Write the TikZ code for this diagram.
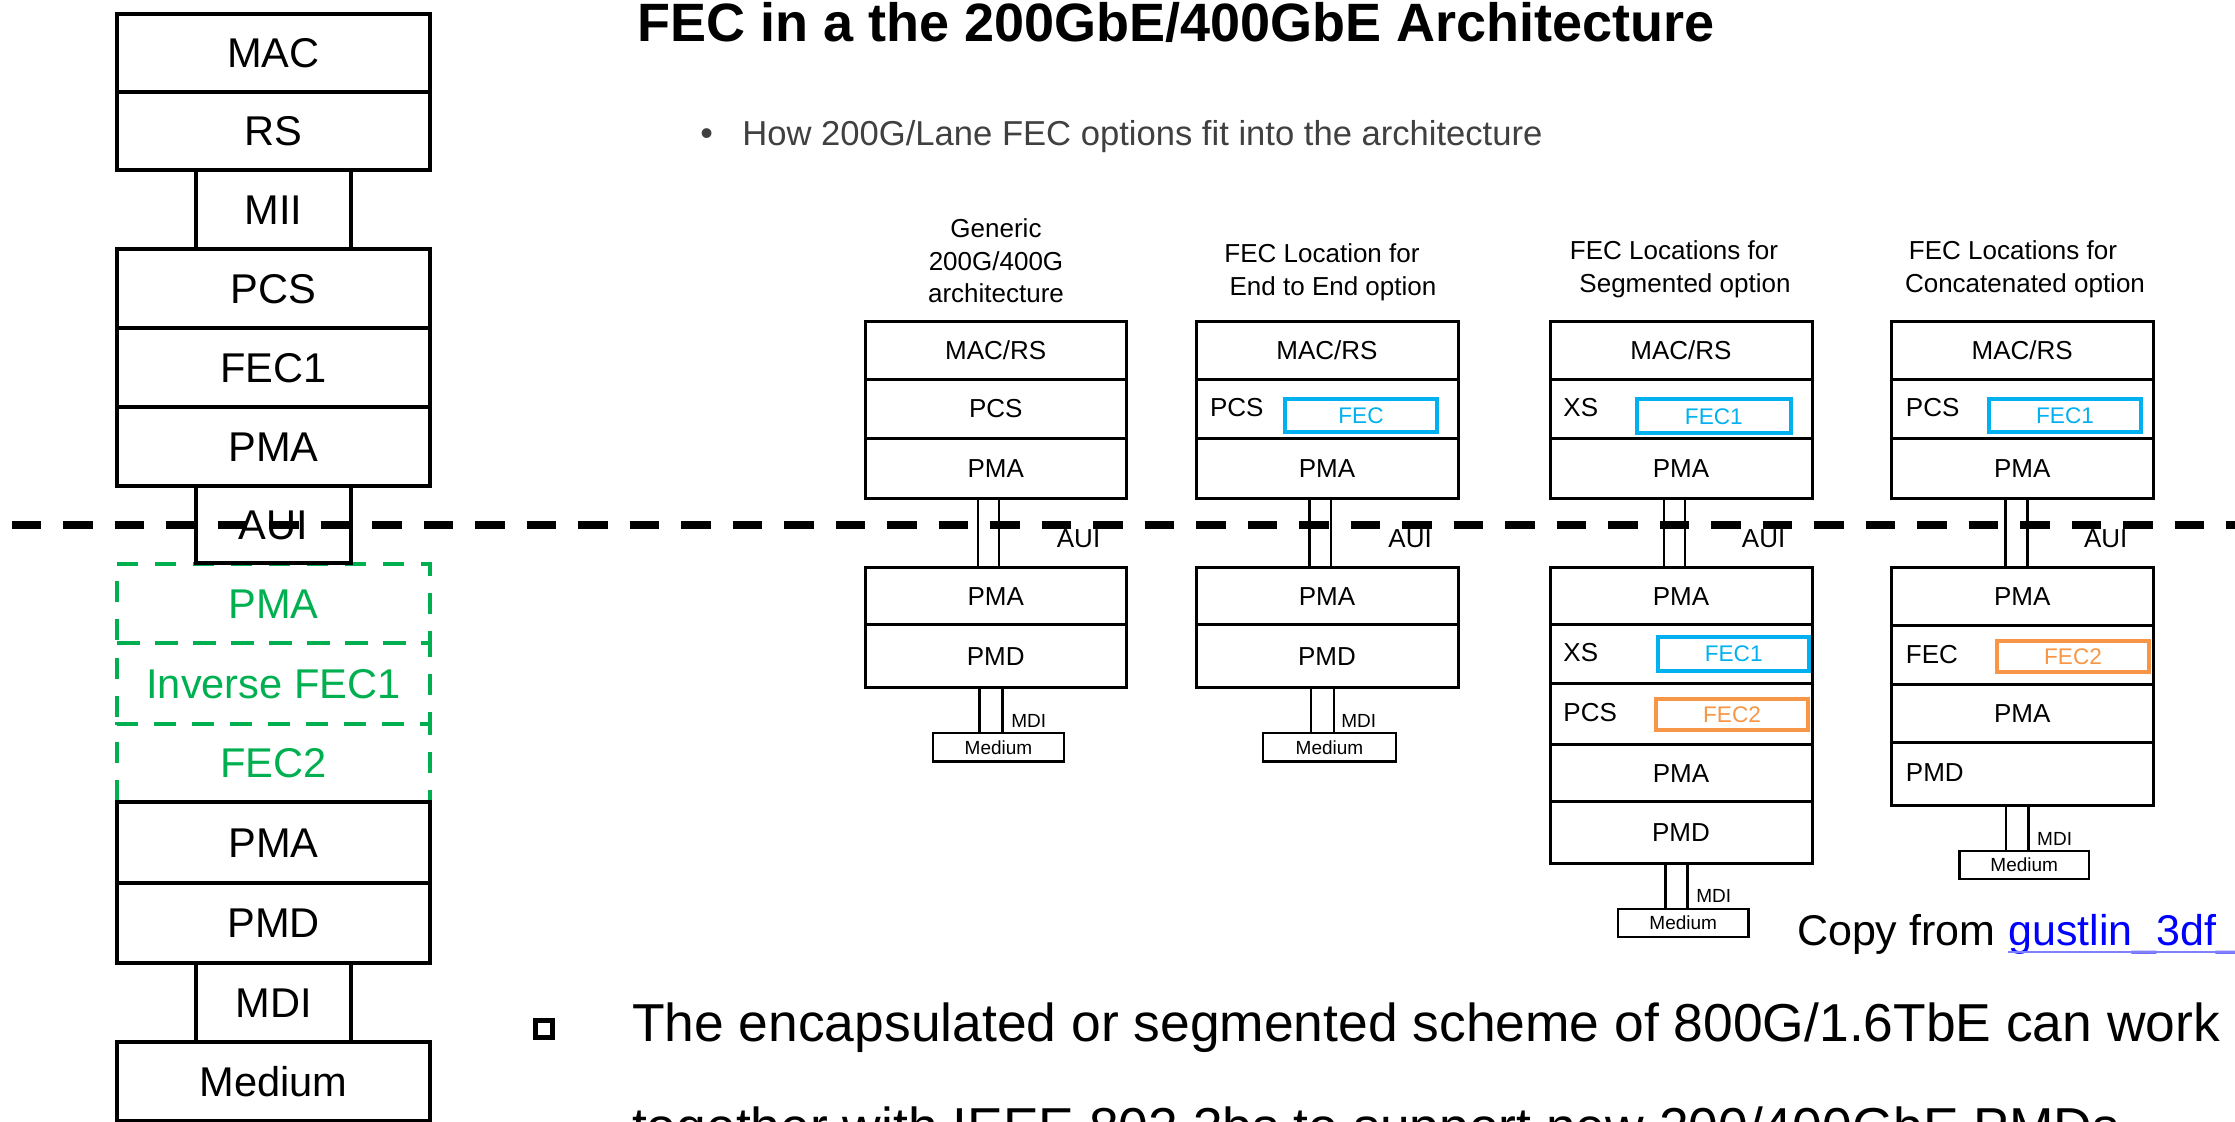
\documentclass[tikz,border=0pt]{standalone}
\usepackage{fontspec}
\setmainfont{Liberation Sans}

\definecolor{fecgreen}{HTML}{00B050}
\definecolor{fecblue}{HTML}{00B0F0}
\definecolor{fecorange}{HTML}{F79646}
\definecolor{linkblue}{HTML}{0000FF}
\definecolor{linkrule}{HTML}{8080FF}
\definecolor{subgray}{HTML}{404040}

% layer box spanning (x1,y1)-(x2,y2): [style]{name}{x1}{y1}{x2}{y2}{text}
\newcommand{\mkbox}[7][]{%
  \node[#1, minimum width={(#5-#3)*0.5pt}, minimum height={(#6-#4)*0.5pt}]
    (#2) at ({(#3+#5)/2},{(#4+#6)/2}) {#7};}

\begin{document}
\begin{tikzpicture}[x=0.5pt,y=-0.5pt,
  bigbox/.style={draw, line width=2.25pt, inner sep=0pt,
    font=\fontsize{20.8pt}{25pt}\selectfont, text height=14.9pt, text depth=0pt},
  greenbox/.style={bigbox, draw=fecgreen, text=fecgreen,
    dash pattern=on 10.5pt off 8.5pt},
  smbox/.style={draw, line width=1.5pt, inner sep=0pt,
    font=\fontsize{13pt}{15pt}\selectfont, text height=9.3pt, text depth=0pt},
  fecb/.style={draw=fecblue, text=fecblue, line width=2pt, inner sep=0pt,
    font=\fontsize{11.3pt}{13pt}\selectfont, text height=8.1pt, text depth=0pt},
  feco/.style={fecb, draw=fecorange, text=fecorange},
  medbox/.style={draw, line width=1.3pt, inner sep=0pt,
    font=\fontsize{9.5pt}{11pt}\selectfont, text height=6.8pt, text depth=0pt},
  lbl/.style={inner sep=0pt, anchor=base west, font=\fontsize{13pt}{15pt}\selectfont},
  mdilbl/.style={inner sep=0pt, anchor=base west, font=\fontsize{9.5pt}{11pt}\selectfont},
  ttl/.style={inner sep=0pt, anchor=base, font=\fontsize{13pt}{15pt}\selectfont},
  lnk/.style={line width=1.4pt},
  cutline/.style={line width=4pt, dash pattern=on 14.75pt off 11pt}]

\useasboundingbox (0,0) rectangle (2235,1121);

% ---------------- left protocol stack ----------------
\mkbox[bigbox]{lmac}{117}{14}{430}{92}{MAC}
\mkbox[bigbox]{lrs}{117}{92}{430}{170}{RS}
\mkbox[bigbox]{lmii}{196}{170}{351}{249}{MII}
\mkbox[bigbox]{lpcs}{117}{249}{430}{328}{PCS}
\mkbox[bigbox]{lfec}{117}{328}{430}{407}{FEC1}
\mkbox[bigbox]{lpma}{117}{407}{430}{486}{PMA}
\mkbox[greenbox]{gpma}{117}{564}{430}{643}{PMA}
\mkbox[greenbox]{ginv}{117}{643}{430}{724}{Inverse FEC1}
\mkbox[greenbox]{gfec}{117}{724}{430}{802}{FEC2}
\mkbox[bigbox]{laui}{196}{486}{351}{563}{AUI}
\mkbox[bigbox]{lpma2}{117}{802}{430}{883}{PMA}
\mkbox[bigbox]{lpmd}{117}{883}{430}{963}{PMD}
\mkbox[bigbox]{lmdi}{196}{963}{351}{1042}{MDI}
\mkbox[bigbox]{lmed}{117}{1042}{430}{1121}{Medium}

% ---------------- headings ----------------
\node[inner sep=0pt, anchor=base west, font=\bfseries\fontsize{27pt}{32pt}\selectfont]
  (title) at (637,41.7) {FEC in a the 200GbE/400GbE Architecture};
\node[inner sep=0pt, anchor=base west, text=subgray, font=\fontsize{18pt}{20pt}\selectfont]
  (subdot) at (700,145.7) {•};
\node[inner sep=0pt, anchor=base west, text=subgray, font=\fontsize{17.3pt}{20pt}\selectfont]
  (subtitle) at (742,145.7) {How 200G/Lane FEC options fit into the architecture};

% ---------------- generic architecture ----------------
\node[ttl] (aT1) at (996,237) {Generic};
\node[ttl] (aT2) at (996,270) {200G/400G};
\node[ttl] (aT3) at (996,302) {architecture};
\mkbox[smbox]{aMac}{865.5}{321.7}{1126}{379}{MAC/RS}
\mkbox[smbox]{aPcs}{865.5}{379}{1126}{438}{PCS}
\mkbox[smbox]{aPma}{865.5}{438}{1126}{498}{PMA}
\mkbox[smbox]{aPmaL}{865.5}{567.7}{1126}{624.7}{PMA}
\mkbox[smbox]{aPmd}{865.5}{624.7}{1126}{687}{PMD}
\mkbox[medbox]{aMed}{933}{733}{1064}{761.7}{Medium}
\coordinate (aA1) at (978,0);   \coordinate (aA2) at (999,0);
\coordinate (aM1) at (979.7,0); \coordinate (aM2) at (1002.5,0);
\draw[lnk] (aA1 |- aPma.south) -- (aA1 |- aPmaL.north);
\draw[lnk] (aA2 |- aPma.south) -- (aA2 |- aPmaL.north);
\draw[lnk] (aM1 |- aPmd.south) -- (aM1 |- aMed.north);
\draw[lnk] (aM2 |- aPmd.south) -- (aM2 |- aMed.north);
\node[lbl] (aAui) at (1056.5,547) {AUI};
\node[mdilbl] (aMdi) at (1011,727) {MDI};

% ---------------- end to end option ----------------
\node[ttl] (bT1) at (1322,262) {FEC Location for};
\node[ttl] (bT2) at (1333,295) {End to End option};
\mkbox[smbox]{bMac}{1196}{321.7}{1458}{379}{MAC/RS}
\mkbox[smbox]{bPcs}{1196}{379}{1458}{438}{}
\node[lbl] (bPcsT) at (1209.6,416.7) {PCS};
\mkbox[fecb]{bFec}{1285}{399}{1437}{431.7}{FEC}
\mkbox[smbox]{bPma}{1196}{438}{1458}{498}{PMA}
\mkbox[smbox]{bPmaL}{1196}{567.7}{1458}{624.7}{PMA}
\mkbox[smbox]{bPmd}{1196}{624.7}{1458}{687}{PMD}
\mkbox[medbox]{bMed}{1263}{733}{1396}{761.7}{Medium}
\coordinate (bA1) at (1309.6,0); \coordinate (bA2) at (1331,0);
\coordinate (bM1) at (1311,0);   \coordinate (bM2) at (1334,0);
\draw[lnk] (bA1 |- bPma.south) -- (bA1 |- bPmaL.north);
\draw[lnk] (bA2 |- bPma.south) -- (bA2 |- bPmaL.north);
\draw[lnk] (bM1 |- bPmd.south) -- (bM1 |- bMed.north);
\draw[lnk] (bM2 |- bPmd.south) -- (bM2 |- bMed.north);
\node[lbl] (bAui) at (1388,547) {AUI};
\node[mdilbl] (bMdi) at (1341,727) {MDI};

% ---------------- segmented option ----------------
\node[ttl] (cT1) at (1674,259) {FEC Locations for};
\node[ttl] (cT2) at (1685,292) {Segmented option};
\mkbox[smbox]{cMac}{1550}{321.7}{1812}{379}{MAC/RS}
\mkbox[smbox]{cXs}{1550}{379}{1812}{438}{}
\node[lbl] (cXsT) at (1563,416.7) {XS};
\mkbox[fecb]{cFec}{1637}{399}{1790.7}{433}{FEC1}
\mkbox[smbox]{cPma}{1550}{438}{1812}{498}{PMA}
\mkbox[smbox]{cPmaL}{1550}{567.7}{1812}{624}{PMA}
\mkbox[smbox]{cXsL}{1550}{624}{1812}{683}{}
\node[lbl] (cXsLT) at (1563,661.7) {XS};
\mkbox[fecb]{cFecL}{1658}{636.7}{1809.4}{670.7}{FEC1}
\mkbox[smbox]{cPcsL}{1550}{683}{1812}{744}{}
\node[lbl] (cPcsLT) at (1563,721.7) {PCS};
\mkbox[feco]{cFec2}{1656}{699}{1808}{730}{FEC2}
\mkbox[smbox]{cPma2}{1550}{744}{1812}{801.7}{PMA}
\mkbox[smbox]{cPmd}{1550}{801.7}{1812}{863}{PMD}
\mkbox[medbox]{cMed}{1618}{909}{1748.5}{937}{Medium}
\coordinate (cA1) at (1664,0);   \coordinate (cA2) at (1685,0);
\coordinate (cM1) at (1665.5,0); \coordinate (cM2) at (1687.5,0);
\draw[lnk] (cA1 |- cPma.south) -- (cA1 |- cPmaL.north);
\draw[lnk] (cA2 |- cPma.south) -- (cA2 |- cPmaL.north);
\draw[lnk] (cM1 |- cPmd.south) -- (cM1 |- cMed.north);
\draw[lnk] (cM2 |- cPmd.south) -- (cM2 |- cMed.north);
\node[lbl] (cAui) at (1741.5,547) {AUI};
\node[mdilbl] (cMdi) at (1696,902.7) {MDI};

% ---------------- concatenated option ----------------
\node[ttl] (dT1) at (2013,259) {FEC Locations for};
\node[ttl] (dT2) at (2025,292) {Concatenated option};
\mkbox[smbox]{dMac}{1891.5}{321.7}{2153}{379}{MAC/RS}
\mkbox[smbox]{dPcs}{1891.5}{379}{2153}{438}{}
\node[lbl] (dPcsT) at (1905.5,416.7) {PCS};
\mkbox[fecb]{dFec}{1989}{399}{2141}{432}{FEC1}
\mkbox[smbox]{dPma}{1891.5}{438}{2153}{498}{PMA}
\mkbox[smbox]{dPmaL}{1891.5}{567.7}{2153}{625}{PMA}
\mkbox[smbox]{dFecL}{1891.5}{625}{2153}{684}{}
\node[lbl] (dFecLT) at (1905.5,663) {FEC};
\mkbox[feco]{dFec2}{1997}{640.7}{2149}{671.7}{FEC2}
\mkbox[smbox]{dPma2}{1891.5}{684}{2153}{742}{PMA}
\mkbox[smbox]{dPmd}{1891.5}{742}{2153}{805}{}
\node[lbl] (dPmdT) at (1905.5,781.7) {PMD};
\mkbox[medbox]{dMed}{1959.4}{851}{2089}{879}{Medium}
\coordinate (dA1) at (2005.4,0); \coordinate (dA2) at (2027.4,0);
\coordinate (dM1) at (2006,0);   \coordinate (dM2) at (2028.8,0);
\draw[lnk] (dA1 |- dPma.south) -- (dA1 |- dPmaL.north);
\draw[lnk] (dA2 |- dPma.south) -- (dA2 |- dPmaL.north);
\draw[lnk] (dM1 |- dPmd.south) -- (dM1 |- dMed.north);
\draw[lnk] (dM2 |- dPmd.south) -- (dM2 |- dMed.north);
\node[lbl] (dAui) at (2083.7,547) {AUI};
\node[mdilbl] (dMdi) at (2036.8,845) {MDI};

% ---------------- source note ----------------
\node[inner sep=0pt, anchor=base west, font=\fontsize{21.5pt}{26pt}\selectfont]
  (copy) at (1796.7,945) {Copy from};
\node[inner sep=0pt, anchor=base west, text=linkblue, font=\fontsize{21.5pt}{26pt}\selectfont]
  (gus) at ([xshift=6pt]copy.base east) {gustlin\_3df\_};
\draw[linkrule, line width=1pt] ([yshift=-3.5pt]gus.base west) -- ([yshift=-3.5pt]gus.base east);

% ---------------- bullet text ----------------
\node[draw, line width=2.5pt, inner sep=0pt, minimum size=8.5pt] (sq) at (544,1029) {};
\node[inner sep=0pt, anchor=base west, font=\fontsize{26.7pt}{32pt}\selectfont]
  (line1) at (631.7,1041.7) {The encapsulated or segmented scheme of 800G/1.6TbE can work};
\node[inner sep=0pt, anchor=base west, font=\fontsize{26.7pt}{32pt}\selectfont]
  (line2) at (631.7,1145.5) {together with IEEE 802.3bs to support new 200/400GbE PMDs};

% ---------------- boundary line ----------------
\coordinate (cutL) at (11.5,524.5);
\coordinate (cutR) at (2240,524.5);
\draw[cutline] (cutL) -- (cutR);

\end{tikzpicture}
\end{document}
